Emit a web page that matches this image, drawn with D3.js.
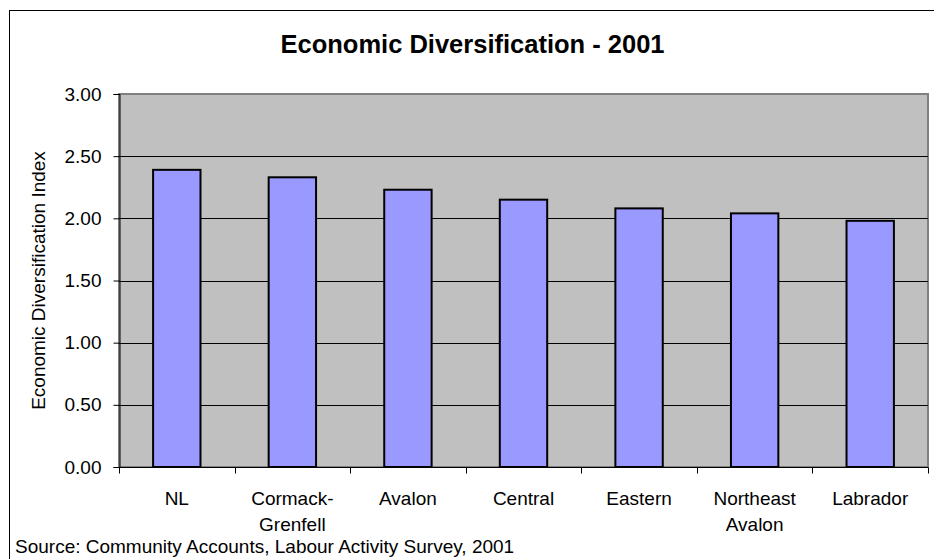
<!DOCTYPE html>
<html>
<head>
  <meta charset="utf-8">
  <style>
	  body { margin: 0; background: white; }
	  text { font-family: Arial, "Liberation Sans", sans-serif; fill: black; }
  </style>
</head>
<body>
	<div id="chart"></div>
<script src="https://d3js.org/d3.v7.min.js"></script>
<script>
	const regions = ["NL", "Cormack-|Grenfell", "Avalon", "Central", "Eastern", "Northeast|Avalon", "Labrador"];
	const index = [2.39, 2.33, 2.23, 2.15, 2.08, 2.04, 1.98];
	const yTicks = [0, 0.5, 1, 1.5, 2, 2.5, 3];

	const width = 934;
	const height = 559;
	const plot = { left: 119, right: 928, top: 94, bottom: 467 };

	const svg = d3.select('#chart')
		.append('svg')
		.attr('width', width)
		.attr('height', height);

	// outer chart frame
	svg.append('rect')
		.attr('x', 9.5).attr('y', 10.5)
		.attr('width', 926).attr('height', 560)
		.attr('fill', 'white')
		.attr('stroke', 'black');

	const x = d3.scaleBand()
		.domain(regions)
		.range([plot.left, plot.right])
		.padding(0);

	const y = d3.scaleLinear()
		.domain([0, 3])
		.range([plot.bottom, plot.top]);

	// plot area
	svg.append('rect')
		.attr('x', plot.left).attr('y', plot.top)
		.attr('width', plot.right - plot.left)
		.attr('height', plot.bottom - plot.top)
		.attr('fill', '#c0c0c0')
		.attr('stroke', '#808080')
		.attr('stroke-width', 2);

	// gridlines
	svg.append('g')
		.selectAll('line')
		.data(yTicks.filter(d => d > 0 && d < 3))
		.enter()
		.append('line')
		.attr('x1', plot.left).attr('x2', plot.right)
		.attr('y1', d => Math.round(y(d)) + 0.5)
		.attr('y2', d => Math.round(y(d)) + 0.5)
		.attr('stroke', 'black');

	// bars
	const barW = x.bandwidth() * 0.41;
	svg.append('g')
		.selectAll('rect')
		.data(index)
		.enter()
		.append('rect')
		.attr('x', (d, i) => x(regions[i]) + (x.bandwidth() - barW) / 2)
		.attr('y', d => y(d))
		.attr('width', barW)
		.attr('height', d => y(0) - y(d))
		.attr('fill', '#9999ff')
		.attr('stroke', 'black')
		.attr('stroke-width', 2);

	// y axis
	const yAxis = svg.append('g')
		.attr('transform', `translate(${plot.left + 0.5},0)`)
		.call(d3.axisLeft(y).tickValues(yTicks).tickFormat(d3.format('.2f')).tickSize(6).tickPadding(12));
	yAxis.select('.domain').attr('stroke', 'black');
	yAxis.selectAll('text').style('font-size', '19px').attr('font-family', null);

	// x axis
	const xAxis = svg.append('g')
		.attr('transform', `translate(0,${plot.bottom + 0.5})`);
	xAxis.append('line')
		.attr('x1', plot.left).attr('x2', plot.right)
		.attr('stroke', 'black');
	xAxis.selectAll('.tick')
		.data(regions.concat([null]))
		.enter()
		.append('line')
		.attr('x1', (d, i) => Math.round(plot.left + i * x.step()) + 0.5)
		.attr('x2', (d, i) => Math.round(plot.left + i * x.step()) + 0.5)
		.attr('y1', 0).attr('y2', 6)
		.attr('stroke', 'black');

	const xLabels = svg.append('g')
		.selectAll('text')
		.data(regions)
		.enter()
		.append('text')
		.attr('text-anchor', 'middle')
		.style('font-size', '19px');
	xLabels.each(function(d) {
		const lines = d.split('|');
		d3.select(this).selectAll('tspan')
			.data(lines)
			.enter()
			.append('tspan')
			.attr('x', x(d) + x.bandwidth() / 2)
			.attr('y', (l, j) => 504.5 + j * 26)
			.text(l => l);
	});

	// titles
	svg.append('text')
		.attr('x', 472.5).attr('y', 53)
		.attr('text-anchor', 'middle')
		.style('font-size', '25.5px')
		.style('font-weight', 'bold')
		.text('Economic Diversification - 2001');

	svg.append('text')
		.attr('transform', `translate(45,${(plot.top + plot.bottom) / 2}) rotate(-90)`)
		.attr('text-anchor', 'middle')
		.style('font-size', '19px')
		.text('Economic Diversification Index');

	svg.append('text')
		.attr('x', 15).attr('y', 553)
		.style('font-size', '19px')
		.text('Source: Community Accounts, Labour Activity Survey, 2001');
</script>
</body>
</html>
